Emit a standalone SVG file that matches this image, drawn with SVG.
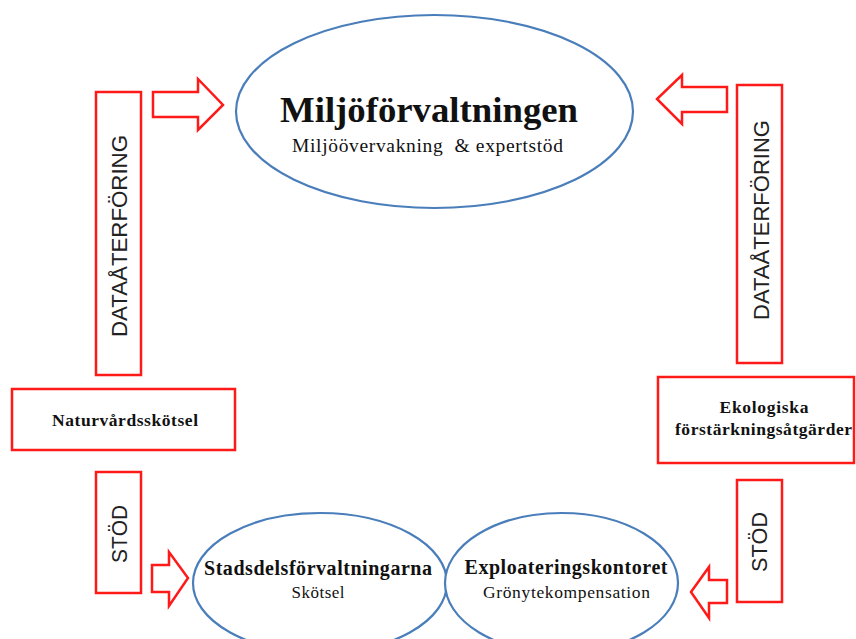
<svg xmlns="http://www.w3.org/2000/svg" width="856" height="639" viewBox="0 0 856 639">
<style>
.box{fill:#fff;stroke:#ff1a1a;stroke-width:2.5}
.arr{fill:#fff;stroke:#ff1a1a;stroke-width:2.5;stroke-linejoin:miter}
.ell{fill:#fff;stroke:#4a7ebb;stroke-width:2.2}
.serif{font-family:"Liberation Serif","Times New Roman",serif;fill:#111}
.b{font-weight:bold}
.sans{font-family:"Liberation Sans",Arial,sans-serif;fill:#222;font-size:22px}
</style>
<rect width="856" height="639" fill="#fff"/>
<g id="connectors">
<polygon class="arr" points="153,92 198,92 198,79 223,105 198,130 198,117 153,117"/>
<polygon class="arr" points="727,87 682,87 682,75 657,99 682,124 682,112 727,112"/>
<polygon class="arr" points="152,565 169,565 169,552 188,578 169,606 169,592 152,592"/>
<polygon class="arr" points="727,580 709,580 709,567 691,592 709,618 709,603 727,603"/>
</g>
<g id="miljoforvaltningen">
<ellipse class="ell" cx="434.5" cy="111.5" rx="198.5" ry="96.5"/>
<text class="serif b" x="429" y="122" font-size="36" text-anchor="middle" textLength="298" lengthAdjust="spacingAndGlyphs">Miljöförvaltningen</text>
<text class="serif" x="427.5" y="152" font-size="19.5" text-anchor="middle" textLength="271" lengthAdjust="spacing">Miljöövervakning&#160; &amp; expertstöd</text>
</g>
<g id="data-left">
<rect class="box" x="96" y="92" width="45" height="283"/>
<text class="sans" transform="translate(127,236) rotate(-90)" text-anchor="middle" textLength="202" lengthAdjust="spacingAndGlyphs">DATAÅTERFÖRING</text>
</g>
<g id="data-right">
<rect class="box" x="737" y="85" width="45" height="278"/>
<text class="sans" transform="translate(769,220) rotate(-90)" text-anchor="middle" textLength="200" lengthAdjust="spacingAndGlyphs">DATAÅTERFÖRING</text>
</g>
<g id="naturvardsskotsel">
<rect class="box" x="12" y="389" width="223" height="61"/>
<text class="serif b" x="125" y="426" font-size="17.5" text-anchor="middle" textLength="146" lengthAdjust="spacing">Naturvårdsskötsel</text>
</g>
<g id="ekologiska">
<rect class="box" x="658" y="377" width="196" height="86"/>
<text class="serif b" x="764" y="413" font-size="17.5" text-anchor="middle" textLength="89" lengthAdjust="spacing">Ekologiska</text>
<text class="serif b" x="763.5" y="435" font-size="17.5" text-anchor="middle" textLength="177" lengthAdjust="spacing">förstärkningsåtgärder</text>
</g>
<g id="stod-left">
<rect class="box" x="96" y="472" width="45" height="121"/>
<text class="sans" transform="translate(127,534) rotate(-90)" text-anchor="middle" textLength="58" lengthAdjust="spacingAndGlyphs">STÖD</text>
</g>
<g id="stod-right">
<rect class="box" x="737" y="480" width="45" height="122"/>
<text class="sans" transform="translate(767,542) rotate(-90)" text-anchor="middle" textLength="60" lengthAdjust="spacingAndGlyphs">STÖD</text>
</g>
<g id="stadsdelsforvaltningarna">
<ellipse class="ell" cx="320" cy="583" rx="127" ry="70"/>
<text class="serif b" x="318" y="575" font-size="20" text-anchor="middle" textLength="228" lengthAdjust="spacing">Stadsdelsförvaltningarna</text>
<text class="serif" x="318" y="598" font-size="17" text-anchor="middle" textLength="53" lengthAdjust="spacing">Skötsel</text>
</g>
<g id="exploateringskontoret">
<ellipse class="ell" cx="561.5" cy="583" rx="116.5" ry="70"/>
<text class="serif b" x="566" y="574" font-size="20" text-anchor="middle" textLength="203" lengthAdjust="spacing">Exploateringskontoret</text>
<text class="serif" x="566.5" y="598" font-size="17.5" text-anchor="middle" textLength="167" lengthAdjust="spacing">Grönytekompensation</text>
</g>
</svg>
